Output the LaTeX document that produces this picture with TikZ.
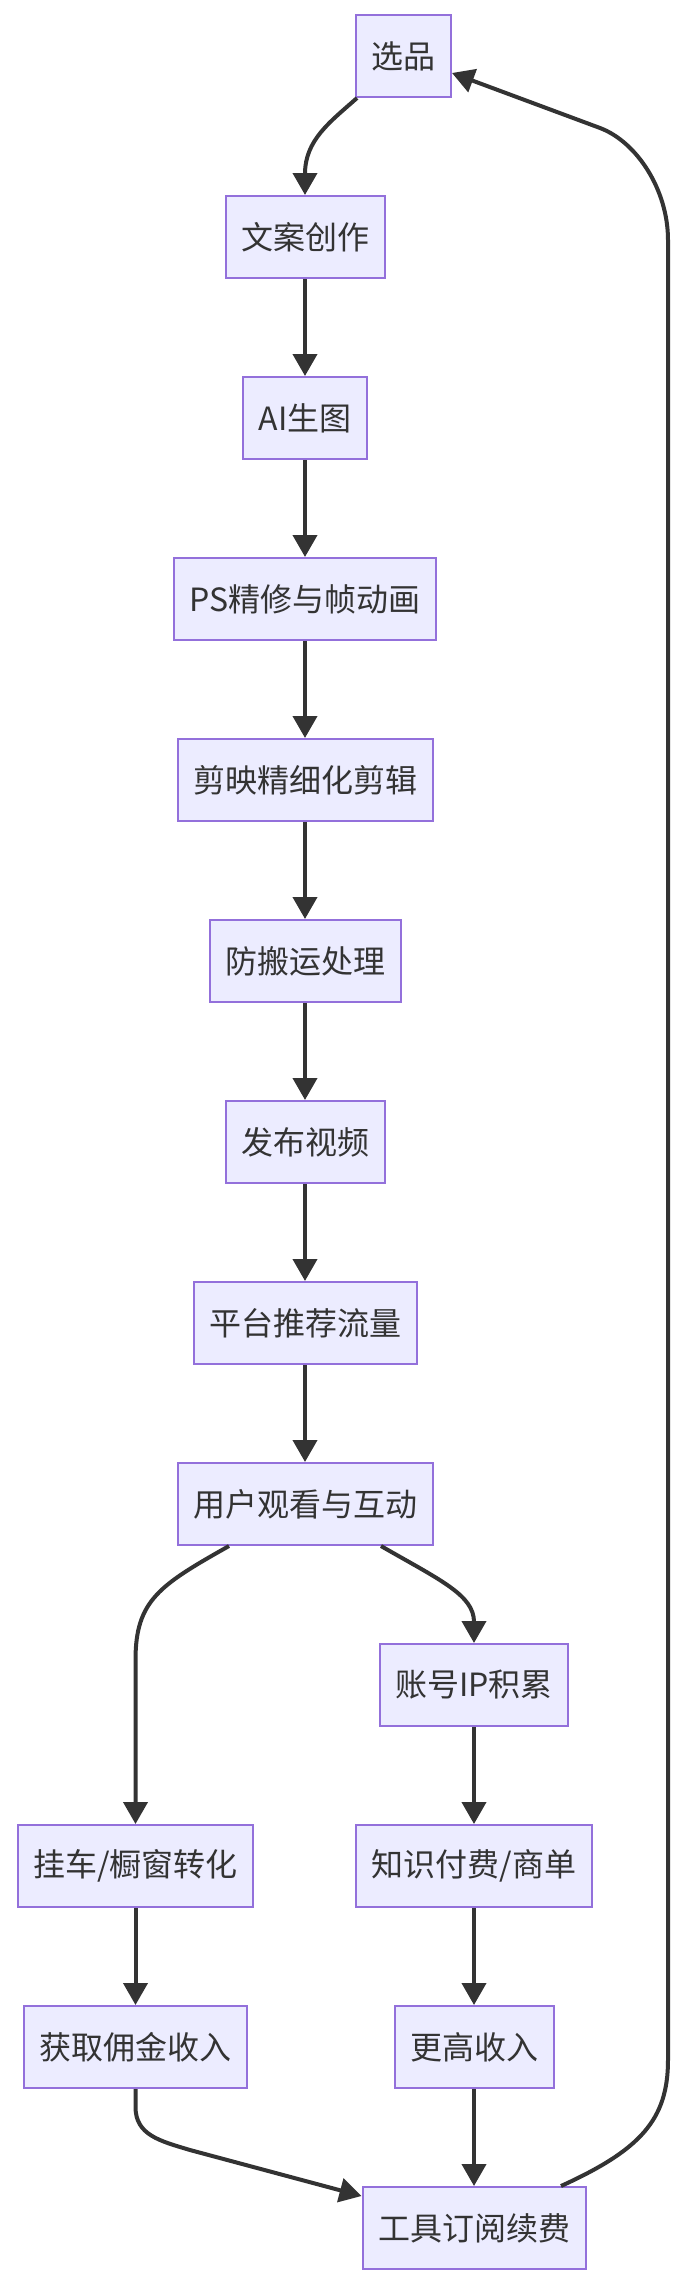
\documentclass[tikz,border=0pt]{standalone}
\usepackage{fontspec}
\setmainfont{Noto Sans CJK SC}
\usetikzlibrary{arrows.meta}
\definecolor{nodefill}{HTML}{ECECFF}
\definecolor{nodeborder}{HTML}{9370DB}
\definecolor{txt}{HTML}{333333}
\begin{document}
\begin{tikzpicture}[x=1pt,y=-1pt,
  box/.style={draw=nodeborder, fill=nodefill, line width=2pt, text=txt,
    font=\fontsize{32pt}{38pt}\selectfont, inner xsep=15.5pt, inner ysep=0pt,
    minimum height=82pt},
  link/.style={draw=txt, line width=4pt, -{Triangle[length=22pt,width=24pt]}}]
\useasboundingbox[fill=white] (0,0) rectangle (684,2288);

\node[box] (xp) at (403.5,56) {选品};
\node[box] (wa) at (305,237) {文案创作};
\node[box] (ai) at (305,418) {AI生图};
\node[box] (ps) at (305,599) {PS精修与帧动画};
\node[box] (jy) at (305,780) {剪映精细化剪辑};
\node[box] (fb) at (305,961) {防搬运处理};
\node[box] (fs) at (305,1142) {发布视频};
\node[box] (pt) at (305,1323) {平台推荐流量};
\node[box] (yh) at (305,1504) {用户观看与互动};
\node[box] (zh) at (474,1685) {账号IP积累};
\node[box] (gc) at (135.5,1866) {挂车/橱窗转化};
\node[box] (zs) at (474,1866) {知识付费/商单};
\node[box] (hq) at (135.5,2047) {获取佣金收入};
\node[box] (gg) at (474,2047) {更高收入};
\node[box] (gj) at (474,2228) {工具订阅续费};

\draw[link] ([xshift=2pt]xp.south west) .. controls (330,122) and (305,140) .. (wa.north);
\draw[link] (wa) -- (ai);
\draw[link] (ai) -- (ps);
\draw[link] (ps) -- (jy);
\draw[link] (jy) -- (fb);
\draw[link] (fb) -- (fs);
\draw[link] (fs) -- (pt);
\draw[link] (pt) -- (yh);
\draw[link] ([xshift=-76pt]yh.south) .. controls (160,1585) and (135.5,1600) .. (135.5,1660) -- (gc.north);
\draw[link] ([xshift=76pt]yh.south) .. controls (440,1580) and (474,1595) .. (zh.north);
\draw[link] (zh) -- (zs);
\draw[link] (gc) -- (hq);
\draw[link] (zs) -- (gg);
\draw[link] (gg) -- (gj);
\draw[link] (hq.south) -- (135.5,2107) .. controls (135.5,2135) and (160,2141) .. (190,2150) -- ([yshift=-10pt]gj.north west);
\draw[link] ([xshift=87pt]gj.north) .. controls (640,2150) and (668,2120) .. (668,2060)
  -- (668,240) .. controls (668,190) and (637,142) .. (600,128) -- ([yshift=-17pt]xp.east);
\end{tikzpicture}
\end{document}
